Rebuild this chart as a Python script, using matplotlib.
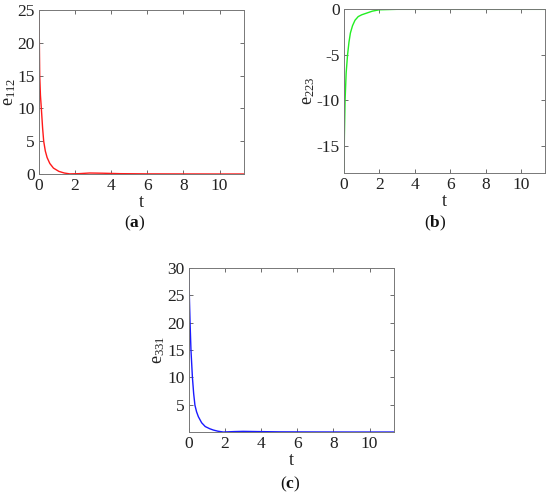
import matplotlib
matplotlib.use("Agg")
import matplotlib.pyplot as plt

plt.rcParams['font.family'] = ['Liberation Serif', 'DejaVu Serif']
plt.rcParams['mathtext.fontset'] = 'custom'
plt.rcParams['mathtext.rm'] = 'Liberation Serif'
plt.rcParams['mathtext.it'] = 'Liberation Serif:italic'
plt.rcParams['mathtext.bf'] = 'Liberation Serif:bold'
plt.rcParams['axes.unicode_minus'] = False

# ---- data ----
t_a = [0, 0.02, 0.04, 0.08, 0.13, 0.2, 0.26, 0.35, 0.45, 0.6, 0.8, 1.1, 1.4, 1.7,
       2.2, 2.8, 3.5, 4.5, 6, 8, 10, 11.35]
e112 = [25, 20, 15, 12, 10, 7, 5, 3.5, 2.5, 1.6, 0.9, 0.4, 0.15, 0.02,
        0.05, 0.15, 0.12, 0.05, 0.02, 0.01, 0, 0]

t_b = [0, 0.02, 0.06, 0.12, 0.2, 0.28, 0.36, 0.48, 0.62, 0.8, 1.0, 1.3, 1.6, 2.0,
       3, 5, 8, 11.35]
e223 = [-18, -14, -10, -7, -5, -3.6, -2.6, -1.8, -1.2, -0.8, -0.6, -0.4, -0.2, -0.05,
        0, 0, 0, 0]

t_c = [0, 0.02, 0.06, 0.11, 0.19, 0.26, 0.33, 0.42, 0.52, 0.7, 0.9, 1.15, 1.35, 1.6,
       1.9, 2.5, 3.0, 3.8, 5, 7, 9, 11.35]
e331 = [30, 25, 20, 15, 10, 7, 4.9, 3.7, 2.8, 1.7, 1.0, 0.6, 0.36, 0.15,
        0.0, 0.08, 0.12, 0.08, 0.03, 0.01, 0, 0]

x_ticks = [0, 2, 4, 6, 8, 10]
panels = [
    dict(t=t_a, e=e112, color='#ff1a1a', label=r'$\mathrm{e}_{112}$',
         ylim=(0, 25), yticks=[0, 5, 10, 15, 20, 25], cap='a',
         rect=[0.0709, 0.6492, 0.3727, 0.3306], capxy=(0.245, 0.55), lx=-0.10),
    dict(t=t_b, e=e223, color='#22ee22', label=r'$\mathrm{e}_{223}$',
         ylim=(-18, 0), yticks=[-15, -10, -5, 0], cap='b',
         rect=[0.6255, 0.6512, 0.3655, 0.330], capxy=(0.791, 0.55), lx=-0.134),
    dict(t=t_c, e=e331, color='#1a1aff', label=r'$\mathrm{e}_{331}$',
         ylim=(0, 30), yticks=[5, 10, 15, 20, 25, 30], cap='c',
         rect=[0.3436, 0.129, 0.3727, 0.3306], capxy=(0.527, 0.024), lx=-0.107),
]

fig = plt.figure(figsize=(5.5, 4.96), dpi=100)
for p in panels:
    ax = fig.add_axes(p['rect'])
    ax.plot(p['t'], p['e'], color=p['color'], lw=1.0)
    ax.set_xlim(0, 11.35)
    ax.set_ylim(*p['ylim'])
    ax.set_xticks(x_ticks)
    ax.set_yticks(p['yticks'])
    ax.tick_params(direction='in', length=3, width=0.6, colors='#555555',
                   labelcolor='#222222', labelsize=12.5, top=True, right=True, pad=3)
    for s in ax.spines.values():
        s.set_color('#777777')
        s.set_linewidth(0.7)
    ax.set_xlabel('t', fontsize=13, color='#222222', labelpad=0)
    ax.set_ylabel(p['label'], fontsize=13, color='#222222')
    ax.yaxis.set_label_coords(p['lx'], 0.5)
    fig.text(p['capxy'][0], p['capxy'][1], r'($\mathbf{%s}$)' % p['cap'],
             ha='center', va='center', fontsize=12.5, color='#111111')

fig.savefig('out.png', dpi=100)
